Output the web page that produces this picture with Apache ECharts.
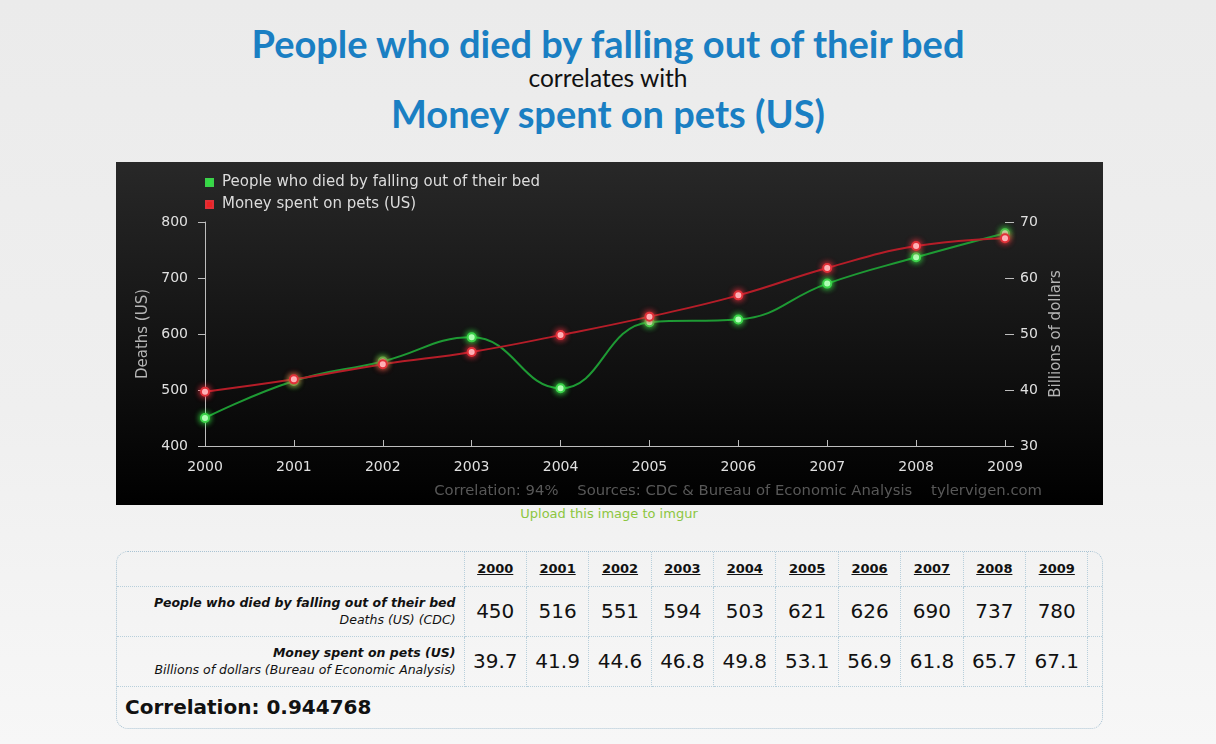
<!DOCTYPE html>
<html><head><meta charset="utf-8">
<script src="https://cdn.jsdelivr.net/npm/echarts@6/dist/echarts.min.js"></script>
<style>
html,body{margin:0;padding:0;width:1216px;height:744px;overflow:hidden;}
body{background:linear-gradient(180deg,#ebebeb 0%,#efefef 55%,#f7f7f7 100%);font-family:"DejaVu Sans",sans-serif;position:relative;}
.ttl{position:absolute;left:0;width:1216px;text-align:center;white-space:nowrap;}
#t1{top:20px;line-height:46px;font:bold 38px Lato,sans-serif;color:#1a7fc3;}
#t2{top:63px;line-height:30px;font:24.5px Lato,sans-serif;color:#111;}
#t3{top:90px;line-height:46px;font:bold 38px Lato,sans-serif;color:#1a7fc3;}
#chart{position:absolute;left:116px;top:162px;width:987px;height:343px;}
#upload{position:absolute;left:0;width:1218px;top:506px;text-align:center;font:13px "DejaVu Sans",sans-serif;color:#8cc63f;}
#tbl{position:absolute;left:116px;top:551px;width:987px;height:178px;border:1px dotted #a9c3d3;border-radius:12px;box-sizing:border-box;overflow:hidden;}
#tbl table{border-collapse:collapse;width:985px;table-layout:fixed;}
#tbl td{border:1px dotted #b8cfdb;padding:0;color:#111;}
#tbl tr:first-child td{border-top:none;}
#tbl tr:last-child td{border-bottom:none;}
#tbl td:first-child{border-left:none;}
#tbl td:last-child{border-right:none;}
.yr{text-align:center;font-weight:bold;font-size:13px;text-decoration:underline;}
.num{text-align:center;font-size:20px;}
.lbl{text-align:right;padding-right:8px !important;font-size:12.5px;line-height:17px;}
.lbl b{font-style:italic;}
.lbl i{font-style:italic;}
.corr{font-weight:bold;font-size:20px;padding-left:8px !important;}
</style>
</head><body>
<div class="ttl" id="t1"></div>
<div class="ttl" id="t2"></div>
<div class="ttl" id="t3"></div>
<div id="chart"></div>
<div id="upload">Upload this image to imgur</div>
<div id="tbl"></div>
<script>
const years = ['2000','2001','2002','2003','2004','2005','2006','2007','2008','2009'];
const deaths = [450,516,551,594,503,621,626,690,737,780];
const petSpending = [39.7,41.9,44.6,46.8,49.8,53.1,56.9,61.8,65.7,67.1];
const seriesA = 'People who died by falling out of their bed';
const seriesB = 'Money spent on pets (US)';
const unitA = 'Deaths (US) (CDC)';
const unitB = 'Billions of dollars (Bureau of Economic Analysis)';
const axisNameA = 'Deaths (US)';
const axisNameB = 'Billions of dollars';
const correlationText = 'Correlation: 0.944768';
const footerText = 'Correlation: 94%    Sources: CDC & Bureau of Economic Analysis    tylervigen.com';

document.getElementById('t1').textContent = seriesA;
document.getElementById('t2').textContent = 'correlates with';
document.getElementById('t3').textContent = seriesB;

// table
const colW = [347].concat(years.map(()=>62.4)).concat([14]);
let h = '<table><colgroup>' + colW.map(w=>'<col style="width:'+w+'px">').join('') + '</colgroup>';
h += '<tr style="height:34px"><td></td>' + years.map(y=>'<td class="yr">'+y+'</td>').join('') + '<td></td></tr>';
h += '<tr style="height:50px"><td class="lbl"><b>'+seriesA+'</b><br><i>'+unitA+'</i></td>' + deaths.map(v=>'<td class="num">'+v+'</td>').join('') + '<td></td></tr>';
h += '<tr style="height:50px"><td class="lbl"><b>'+seriesB+'</b><br><i>'+unitB+'</i></td>' + petSpending.map(v=>'<td class="num">'+v.toFixed(1)+'</td>').join('') + '<td></td></tr>';
h += '<tr style="height:42px"><td class="corr" colspan="'+(years.length+2)+'">'+correlationText+'</td></tr>';
h += '</table>';
document.getElementById('tbl').innerHTML = h;

const chart = echarts.init(document.getElementById('chart'));
const axisCol = '#bdbdbd';
chart.setOption({
  animation:false,
  backgroundColor:{type:'linear',x:0,y:0,x2:0,y2:1,colorStops:[{offset:0,color:'#282828'},{offset:1,color:'#000'}]},
  grid:{left:89,right:98,top:60,bottom:59},
  legend:{orient:'vertical',left:84,top:8,itemWidth:7,itemHeight:7,itemGap:7,icon:'rect',
    textStyle:{color:'#dcdcdc',fontSize:15,fontFamily:'DejaVu Sans',padding:[0,0,0,4]},
    data:[{name:seriesA,itemStyle:{color:'#33dd44'}},{name:seriesB,itemStyle:{color:'#ee2222'}}]},
  xAxis:{type:'category',data:years,boundaryGap:false,
    axisLine:{lineStyle:{color:axisCol,width:1}},
    axisTick:{inside:true,length:6,alignWithLabel:true,lineStyle:{color:axisCol}},
    axisLabel:{color:'#e0e0e0',fontSize:14,fontFamily:'DejaVu Sans',margin:14},
    splitLine:{show:false}},
  yAxis:[
    {type:'value',min:400,max:800,interval:100,name:axisNameA,nameLocation:'middle',nameGap:46,nameRotate:90,
     nameTextStyle:{color:'#b5b5b5',fontSize:15,fontFamily:'DejaVu Sans'},
     axisLine:{show:true,lineStyle:{color:axisCol}},
     axisTick:{show:true,length:7,lineStyle:{color:axisCol}},
     axisLabel:{color:'#e0e0e0',fontSize:14,fontFamily:'DejaVu Sans',margin:17},
     splitLine:{show:false}},
    {type:'value',min:30,max:70,interval:10,position:'right',name:axisNameB,nameLocation:'middle',nameGap:38,nameRotate:90,
     nameTextStyle:{color:'#b5b5b5',fontSize:15,fontFamily:'DejaVu Sans'},
     axisLine:{show:false},
     axisTick:{show:true,length:9,lineStyle:{color:axisCol}},
     axisLabel:{color:'#e0e0e0',fontSize:14,fontFamily:'DejaVu Sans',margin:15},
     splitLine:{show:false}}
  ],
  series:[
    {name:seriesA,type:'line',data:deaths,yAxisIndex:0,smooth:0.45,symbol:'circle',symbolSize:8,
     lineStyle:{color:'#1e9a34',width:2},
     itemStyle:{color:'#eaffea',borderColor:'#3bd24a',borderWidth:2,shadowBlur:6,shadowColor:'#3bff4a'}},
    {name:seriesB,type:'line',data:petSpending,yAxisIndex:1,smooth:0.45,symbol:'circle',symbolSize:8,
     lineStyle:{color:'#b51d28',width:2},
     itemStyle:{color:'#fff0f0',borderColor:'#e03038',borderWidth:2,shadowBlur:6,shadowColor:'#ff3040'}}
  ],
  graphic:[{type:'text',right:61,top:322,style:{text:footerText,fill:'#585858',font:'14.8px "DejaVu Sans"'}}]
});
</script>
</body></html>
